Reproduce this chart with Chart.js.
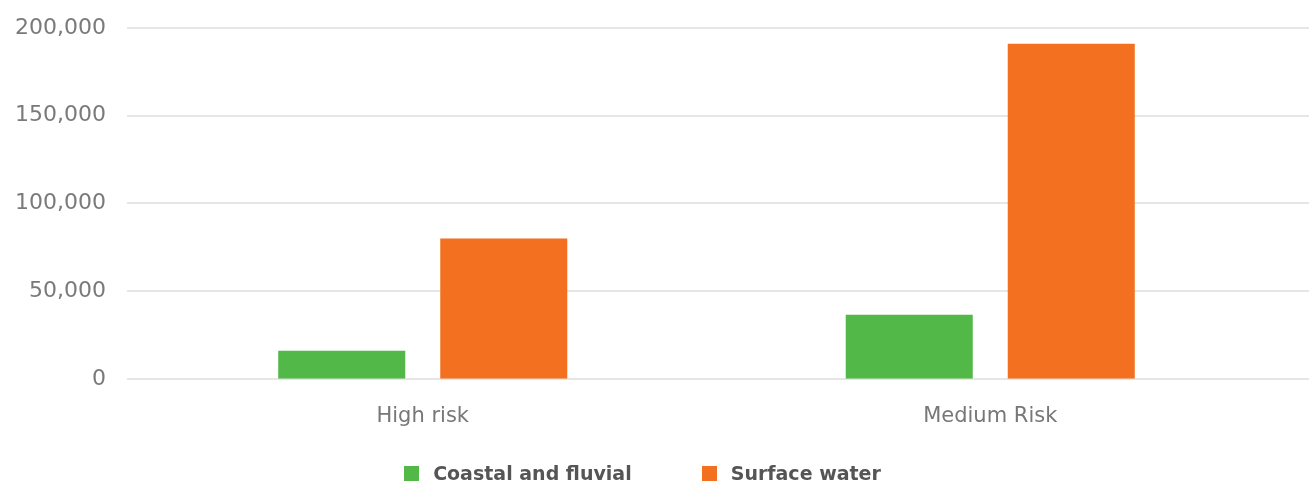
<!DOCTYPE html>
<html>
<head>
<meta charset="utf-8">
<script src="https://cdn.jsdelivr.net/npm/chart.js@4"></script>
<style>
  html, body { margin: 0; padding: 0; background: #fff; }
  #wrap { position: relative; width: 1309px; height: 482px; }
  #legend { position: absolute; left: 0; right: 24px; top: 462px; display: flex; justify-content: center;
    font-family: "DejaVu Sans", sans-serif; font-size: 19px; font-weight: bold; color: #555; }
  .item { display: flex; align-items: center; margin: 0 35px; }
  .box { width: 15px; height: 15px; margin-right: 14px; }
</style>
</head>
<body>
<div id="wrap">
  <canvas id="chart1" width="1309" height="482"></canvas>
  <div id="legend"></div>
</div>
<script>
const categories = ['High risk', 'Medium Risk'];
const seriesNames = ['Coastal and fluvial', 'Surface water'];
const coastalFluvial = [16000, 36500];
const surfaceWater = [80000, 191000];
const colors = ['#52b848', '#f37021'];

// y grid lines run wider than the plot area in the reference
const wideGrid = {
  id: 'wideGrid',
  beforeDatasetsDraw(chart) {
    const y = chart.scales.y;
    const c = chart.ctx;
    c.save();
    c.strokeStyle = '#e6e6e6';
    c.lineWidth = 2;
    y.ticks.forEach(t => {
      const py = Math.round(y.getPixelForValue(t.value));
      c.beginPath();
      c.moveTo(127, py);
      c.lineTo(chart.width, py);
      c.stroke();
    });
    c.restore();
  }
};

const chart = new Chart(document.getElementById('chart1'), {
  type: 'bar',
  data: {
    labels: categories,
    datasets: [
      { label: seriesNames[0], data: coastalFluvial, backgroundColor: colors[0] },
      { label: seriesNames[1], data: surfaceWater, backgroundColor: colors[1] }
    ]
  },
  options: {
    responsive: false,
    animation: false,
    layout: { padding: { top: 28, right: 35, bottom: 36, left: 0 } },
    categoryPercentage: 0.571,
    barPercentage: 0.784,
    plugins: {
      legend: { display: false },
      tooltip: { enabled: false }
    },
    scales: {
      x: {
        grid: { display: false },
        border: { display: false },
        ticks: { color: '#777', font: { family: 'DejaVu Sans', size: 21 }, padding: 17 }
      },
      y: {
        min: 0,
        max: 200000,
        afterFit: s => { s.width = 139; s.paddingTop = 10; s.paddingBottom = 10; },
        grid: { display: false },
        border: { display: false },
        ticks: {
          stepSize: 50000,
          padding: 25,
          color: '#7a7a7a',
          font: { family: 'DejaVu Sans', size: 22 },
          callback: v => v.toLocaleString('en-US')
        }
      }
    }
  },
  plugins: [wideGrid]
});

const legend = document.getElementById('legend');
chart.data.datasets.forEach(ds => {
  const item = document.createElement('div');
  item.className = 'item';
  const box = document.createElement('span');
  box.className = 'box';
  box.style.background = ds.backgroundColor;
  const txt = document.createElement('span');
  txt.textContent = ds.label;
  item.appendChild(box);
  item.appendChild(txt);
  legend.appendChild(item);
});
</script>
</body>
</html>
